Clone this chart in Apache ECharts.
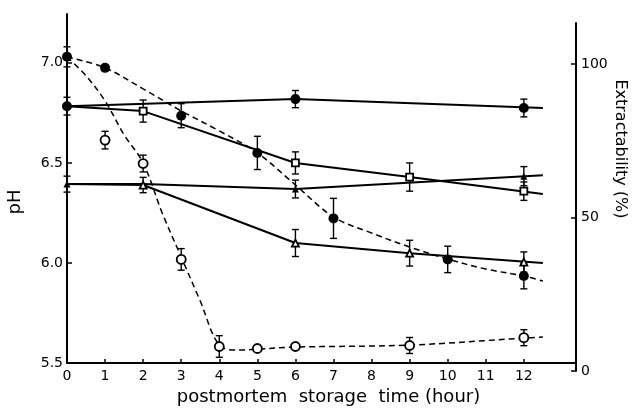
<!DOCTYPE html>
<html><head><meta charset="utf-8">
<script src="https://cdn.jsdelivr.net/npm/echarts@6/dist/echarts.min.js"></script>
<style>html,body{margin:0;padding:0;background:#fff}#c{width:633px;height:411px}</style>
</head><body><div id="c"></div>
<script>
// ---- pH (left axis), dashed curves ----
const phFilledHours  = [0, 1, 3, 5, 7, 10, 12];
const phFilledValues = [7.03, 6.975, 6.736, 6.55, 6.223, 6.018, 5.935];
const phFilledErr    = [0.05, 0, 0.06, 0.083, 0.10, 0.066, 0.064];
const phFilledCurveHours  = [0, 1, 2, 3, 4, 5, 6, 7, 8, 9, 10, 11, 12, 12.5];
const phFilledCurveValues = [7.03, 6.975, 6.87, 6.76, 6.66, 6.55, 6.39, 6.23, 6.15, 6.08, 6.02, 5.97, 5.935, 5.91];

const phOpenHours  = [1, 2, 3, 4, 5, 6, 9, 12];
const phOpenValues = [6.614, 6.497, 6.018, 5.583, 5.573, 5.583, 5.588, 5.627];
const phOpenErr    = [0.044, 0.042, 0.054, 0.054, 0, 0, 0.04, 0.04];
const phOpenCurveHours  = [0, 0.5, 1, 1.5, 2, 2.5, 3, 3.5, 4, 4.5, 5, 6, 9, 12, 12.5];
const phOpenCurveValues = [7.03, 6.935, 6.81, 6.64, 6.50, 6.25, 6.03, 5.81, 5.59, 5.565, 5.57, 5.58, 5.59, 5.625, 5.63];

// ---- Extractability % (right axis), solid lines ----
const extCircleHours  = [0, 6, 12];
const extCircleValues = [86.3, 88.6, 85.7];
const extCircleErr    = [2.9, 2.8, 2.9];
const extCircleLineHours  = [0, 6, 12.5];
const extCircleLineValues = [86.3, 88.6, 85.7];

const extSquareHours  = [2, 6, 9, 12];
const extSquareValues = [84.7, 67.8, 63.2, 58.6];
const extSquareErr    = [3.6, 3.6, 4.6, 3.0];
const extSquareLineHours  = [0, 2, 6, 9, 12.5];
const extSquareLineValues = [86.3, 84.7, 67.8, 63.2, 57.7];

const extTriHours  = [0, 6, 12];
const extTriValues = [60.9, 59.3, 63.5];
const extTriErr    = [2.6, 2.9, 3.1];
const extTriLineHours  = [0, 2, 6, 12.5];
const extTriLineValues = [60.9, 60.9, 59.3, 63.8];

const extOpenTriHours  = [2, 6, 9, 12];
const extOpenTriValues = [60.6, 41.7, 38.4, 35.5];
const extOpenTriErr    = [2.5, 4.4, 4.2, 3.3];
const extOpenTriLineHours  = [0, 2, 6, 9, 12.5];
const extOpenTriLineValues = [60.9, 60.6, 41.7, 38.4, 35.2];

const xTickValues = [0,1,2,3,4,5,6,7,8,9,10,11,12];
const phTicks = [5.5, 6.0, 6.5, 7.0];
const extTicks = [0, 50, 100];

const zip2 = (a, b) => a.map((v, i) => [v, b[i]]);
const zip3 = (a, b, c) => a.map((v, i) => [v, b[i], c[i]]);

function errRender(params, api) {
  const x = api.value(0), y = api.value(1), e = api.value(2);
  if (!e) return { type: 'group', children: [] };
  const t = api.coord([x, y + e]), b = api.coord([x, y - e]);
  const w = 3.5, st = { stroke: '#000', lineWidth: 1.4 };
  return { type: 'group', children: [
    { type: 'line', shape: { x1: t[0], y1: t[1], x2: b[0], y2: b[1] }, style: st },
    { type: 'line', shape: { x1: t[0] - w, y1: t[1], x2: t[0] + w, y2: t[1] }, style: st },
    { type: 'line', shape: { x1: b[0] - w, y1: b[1], x2: b[0] + w, y2: b[1] }, style: st }
  ]};
}

const X_MAX = 13.37;
const font = 'DejaVu Sans';
const axisLabelStyle = { color: '#000', fontSize: 14, fontFamily: font };

function errSeries(g, data) {
  return { type: 'custom', xAxisIndex: g, yAxisIndex: g, renderItem: errRender, data: data, z: 3, silent: true };
}
function lineSeries(g, data, dashed, smooth) {
  return { type: 'line', xAxisIndex: g, yAxisIndex: g, data: data, symbol: 'none', smooth: smooth ? 0.35 : false,
    lineStyle: { color: '#000', width: dashed ? 1.5 : 2, type: dashed ? [6, 4] : 'solid' }, z: 2, silent: true };
}
function markSeries(g, data, symbol, size, filled) {
  return { type: 'scatter', xAxisIndex: g, yAxisIndex: g, data: data, symbol: symbol, symbolSize: size,
    itemStyle: { color: filled ? '#000' : '#fff', borderColor: '#000', borderWidth: filled ? 0 : 1.8, opacity: 1 }, z: 5, silent: true };
}

const chart = echarts.init(document.getElementById('c'), null, { renderer: 'canvas' });
chart.setOption({
  animation: false,
  backgroundColor: '#fff',
  grid: [
    { left: 67, right: 57, top: 14, bottom: 40 },
    { left: 67, right: 57, top: 23, bottom: 40 }
  ],
  xAxis: [
    { type: 'value', gridIndex: 0, min: 0, max: X_MAX, interval: 1,
      name: 'postmortem  storage  time (hour)', nameLocation: 'middle', nameGap: 22,
      nameTextStyle: { color: '#000', fontSize: 18, fontFamily: font, padding: [0, 0, 0, 14] },
      axisLine: { onZero: false, lineStyle: { color: '#000', width: 2.2 } },
      axisTick: { inside: true, length: 4, customValues: xTickValues, lineStyle: { color: '#000', width: 1.5 } },
      axisLabel: Object.assign({ margin: 6, customValues: xTickValues }, axisLabelStyle),
      splitLine: { show: false } },
    { type: 'value', gridIndex: 1, min: 0, max: X_MAX, show: false }
  ],
  yAxis: [
    { type: 'value', gridIndex: 0, min: 5.5, max: 7.244, interval: 0.5, position: 'left',
      axisLine: { show: true, onZero: false, lineStyle: { color: '#000', width: 2 } },
      axisTick: { inside: true, length: 5, customValues: phTicks, lineStyle: { color: '#000', width: 1.5 } },
      axisLabel: Object.assign({ margin: 4, customValues: phTicks, formatter: v => v.toFixed(1) }, axisLabelStyle),
      splitLine: { show: false } },
    { type: 'value', gridIndex: 1, min: 0, max: 113.4, interval: 50, position: 'right',
      axisLine: { show: true, onZero: false, lineStyle: { color: '#000', width: 2 } },
      axisTick: { inside: true, length: 5, customValues: extTicks, lineStyle: { color: '#000', width: 1.5 } },
      axisLabel: Object.assign({ margin: 5, customValues: extTicks }, axisLabelStyle),
      splitLine: { show: false } }
  ],
  graphic: [
    { type: 'text', x: 15, y: 202, rotation: Math.PI / 2,
      style: { text: 'pH', fontSize: 18, fontFamily: font, fill: '#000', align: 'center', verticalAlign: 'middle' } },
    { type: 'text', x: 620, y: 149, rotation: -Math.PI / 2,
      style: { text: 'Extractability (%)', fontSize: 16, fontFamily: font, fill: '#000', align: 'center', verticalAlign: 'middle' } }
  ],
  series: [
    lineSeries(0, zip2(phFilledCurveHours, phFilledCurveValues), true, true),
    lineSeries(0, zip2(phOpenCurveHours, phOpenCurveValues), true, true),
    lineSeries(1, zip2(extCircleLineHours, extCircleLineValues), false, false),
    lineSeries(1, zip2(extSquareLineHours, extSquareLineValues), false, false),
    lineSeries(1, zip2(extTriLineHours, extTriLineValues), false, false),
    lineSeries(1, zip2(extOpenTriLineHours, extOpenTriLineValues), false, false),

    errSeries(0, zip3(phFilledHours, phFilledValues, phFilledErr)),
    errSeries(0, zip3(phOpenHours, phOpenValues, phOpenErr)),
    errSeries(1, zip3(extCircleHours, extCircleValues, extCircleErr)),
    errSeries(1, zip3(extSquareHours, extSquareValues, extSquareErr)),
    errSeries(1, zip3(extTriHours, extTriValues, extTriErr)),
    errSeries(1, zip3(extOpenTriHours, extOpenTriValues, extOpenTriErr)),

    markSeries(0, zip2(phFilledHours, phFilledValues), 'circle', 10, true),
    markSeries(0, zip2(phOpenHours, phOpenValues), 'circle', 9, false),
    markSeries(1, zip2(extCircleHours, extCircleValues), 'circle', 10, true),
    markSeries(1, zip2(extSquareHours, extSquareValues), 'rect', 7, false),
    markSeries(1, zip2(extTriHours, extTriValues), 'triangle', 7, true),
    markSeries(1, zip2(extOpenTriHours, extOpenTriValues), 'triangle', 7, false)
  ]
});
</script></body></html>
